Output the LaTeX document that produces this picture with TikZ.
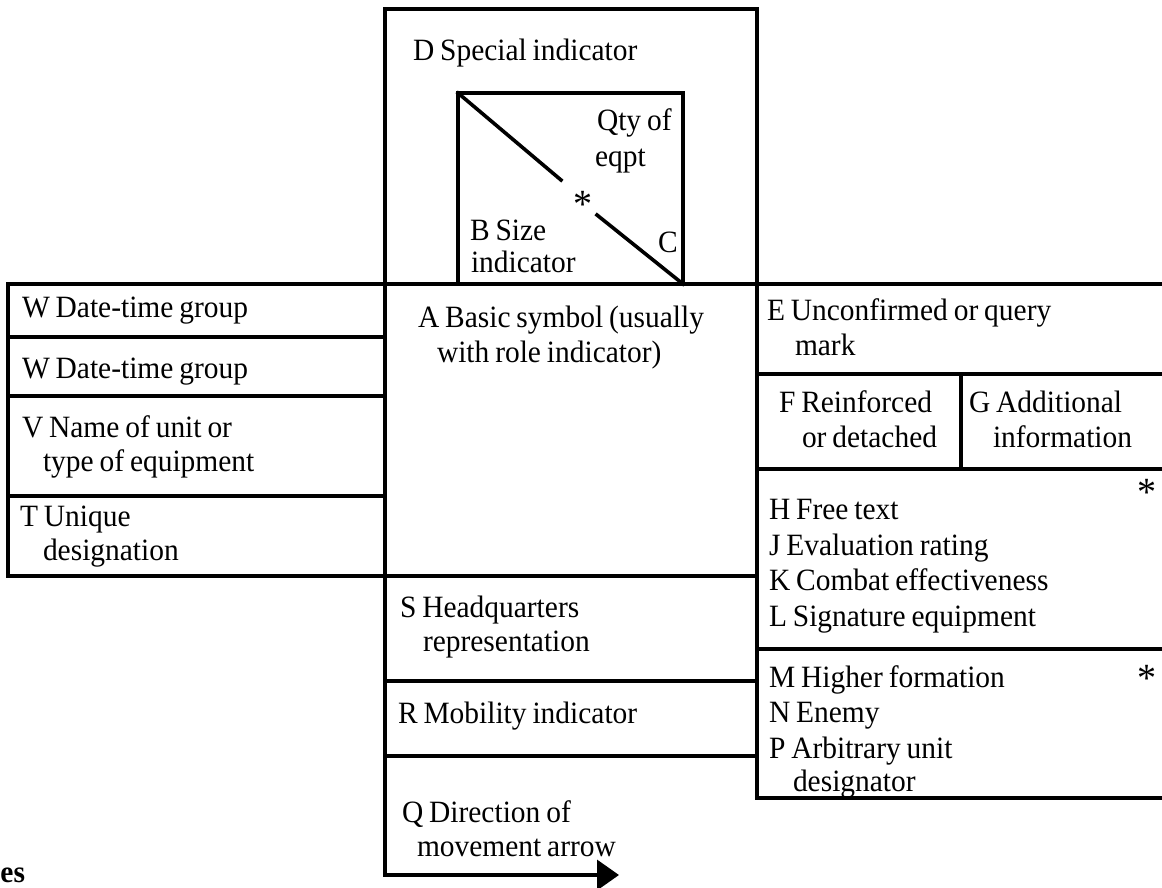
\documentclass[tikz,border=0pt]{standalone}
\usepackage{fontspec}
\setmainfont{Liberation Serif}[FakeStretch=0.95, WordSpace=0.8]
\usetikzlibrary{arrows.meta}
\tikzset{
  txt/.style={anchor=base west, inner sep=0pt, outer sep=0pt, font=\fontsize{31}{36}\selectfont},
  astx/.style={anchor=center, inner sep=0pt, outer sep=0pt, font=\fontsize{40}{40}\selectfont},
  frame/.style={line width=3.6pt, line cap=rect, black},
}
\begin{document}
\begin{tikzpicture}[x=1pt,y=-1pt]
\useasboundingbox (0,0) rectangle (1162,887);
% coordinates
\coordinate (qstart) at (385,875);
\coordinate (qend) at (619,875);
% frame lines
\draw[frame] (385,875) -- (385,9) -- (757,9) -- (757,798);
\draw[frame] (8,284) -- (1166,284);
\draw[frame] (8,284) rectangle (385,576);
\draw[frame] (8,337) -- (385,337);
\draw[frame] (8,396) -- (385,396);
\draw[frame] (8,496) -- (385,496);
\draw[frame] (385,576) -- (757,576);
\draw[frame] (385,681) -- (757,681);
\draw[frame] (385,756) -- (757,756);
\draw[frame] (757,374) -- (1166,374);
\draw[frame] (757,469) -- (1166,469);
\draw[frame] (961,374) -- (961,469);
\draw[frame] (757,649) -- (1166,649);
\draw[frame] (757,798) -- (1166,798);
% inner square
\draw[frame] (458,93) rectangle (683,284);
\draw[frame] (458,93) -- (561,180);
\draw[frame] (597,215) -- (683,284);
% arrow
\draw[line width=3.6pt, -{Triangle[length=22pt,width=30pt]}] (qstart) -- (qend);
% texts
\node[txt] (d1) at (413,60) {D Special indicator};
\node[txt] (qty1) at (597,130) {Qty of};
\node[txt] (qty2) at (595,166) {eqpt};
\node[astx] (ast1) at (583,204) {*};
\node[txt] (b1) at (470,240) {B Size};
\node[txt] (b2) at (471,272) {indicator};
\node[txt] (c) at (658,252) {C};
\node[txt] (a1) at (418,327) {A Basic symbol (usually};
\node[txt] (a2) at (437,362) {with role indicator)};
\node[txt] (w1) at (22,317) {W Date-time group};
\node[txt] (w2) at (22,378) {W Date-time group};
\node[txt] (v1) at (22,437) {V Name of unit or};
\node[txt] (v2) at (43,471) {type of equipment};
\node[txt] (t1) at (20,526) {T Unique};
\node[txt] (t2) at (43,560) {designation};
\node[txt] (e1) at (767,320) {E Unconfirmed or query};
\node[txt] (e2) at (795,355) {mark};
\node[txt] (f1) at (779,412) {F Reinforced};
\node[txt] (f2) at (802,447) {or detached};
\node[txt] (g1) at (969,412) {G Additional};
\node[txt] (g2) at (993,447) {information};
\node[astx] (ast2) at (1147,492) {*};
\node[txt] (h) at (769,519) {H Free text};
\node[txt] (j) at (769,555) {J Evaluation rating};
\node[txt] (k) at (769,590) {K Combat effectiveness};
\node[txt] (l) at (769,626) {L Signature equipment};
\node[txt] (m) at (769,687) {M Higher formation};
\node[astx] (ast3) at (1147,678) {*};
\node[txt] (n) at (769,722) {N Enemy};
\node[txt] (p1) at (769,758) {P Arbitrary unit};
\node[txt] (p2) at (793,791) {designator};
\node[txt] (s1) at (400,617) {S Headquarters};
\node[txt] (s2) at (423,651) {representation};
\node[txt] (r) at (398,723) {R Mobility indicator};
\node[txt] (qd1) at (402,822) {Q Direction of};
\node[txt] (qd2) at (417,856) {movement arrow};
\node[txt, font=\fontsize{31}{36}\selectfont\bfseries] (es) at (0.5,882) {es};
\end{tikzpicture}
\end{document}
